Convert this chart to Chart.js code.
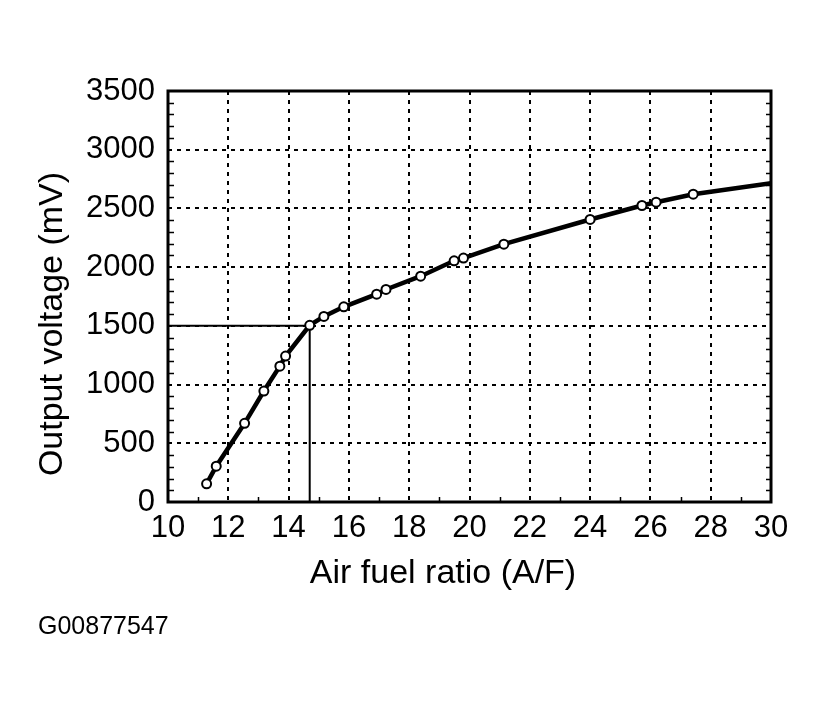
<!DOCTYPE html>
<html>
<head>
<meta charset="utf-8">
<script src="https://cdn.jsdelivr.net/npm/chart.js@4.4.1/dist/chart.umd.min.js"></script>
<style>
    html, body { margin: 0; padding: 0; background: #fff; }
    #wrap { width: 822px; height: 708px; position: relative; }
</style>
</head>
<body>
<div id="wrap"><canvas id="sensorChart" width="822" height="708"></canvas></div>
<script>
// Values
const afRatio = [11.28, 11.6, 12.54, 13.18, 13.71, 13.9, 14.7, 15.17, 15.83, 16.92, 17.23, 18.38, 19.49, 19.8, 21.14, 24.0, 25.72, 26.19, 27.42, 30];
const outputMv = [155, 305, 670, 945, 1157, 1243, 1505, 1580, 1662, 1770, 1810, 1923, 2054, 2077, 2196, 2406, 2525, 2553, 2621, 2715];
// stoichiometric guide: 14.7 A/F gives 1500 mV
const guideX = [10, 14.7, 14.7];
const guideY = [1500, 1500, 0];
const xTickValues = [10, 12, 14, 16, 18, 20, 22, 24, 26, 28, 30];
const yTickValues = [0, 500, 1000, 1500, 2000, 2500, 3000, 3500];
const xTitle = 'Air fuel ratio (A/F)';
const yTitle = 'Output voltage (mV)';
const figureCode = 'G00877547';

const FONT = "'Liberation Sans', Arial, Helvetica, sans-serif";

// frame, inner minor ticks and captions
const decorPlugin = {
    id: 'decor',
    afterDatasetsDraw(chart) {
        const { ctx, chartArea: a, scales } = chart;
        ctx.save();
        ctx.strokeStyle = '#000';
        ctx.lineWidth = 1.5;
        ctx.beginPath();
        for (let v = 100; v < 3500; v += 100) {
            if (v % 500 === 0) continue;
            const y = Math.round(scales.y.getPixelForValue(v)) + 0.5;
            ctx.moveTo(a.left, y); ctx.lineTo(a.left + 6, y);
            ctx.moveTo(a.right, y); ctx.lineTo(a.right - 5, y);
        }
        for (let v = 11; v < 30; v += 2) {
            const x = Math.round(scales.x.getPixelForValue(v)) + 0.5;
            ctx.moveTo(x, a.bottom); ctx.lineTo(x, a.bottom - 5);
        }
        ctx.stroke();

        ctx.lineWidth = 3;
        ctx.strokeRect(a.left, a.top, a.right - a.left, a.bottom - a.top);
        ctx.restore();
    },
    afterDraw(chart) {
        const { ctx } = chart;
        ctx.save();
        ctx.fillStyle = '#000';
        ctx.textBaseline = 'middle';

        ctx.font = `34px ${FONT}`;
        ctx.textAlign = 'center';
        ctx.fillText(xTitle, 443, 574);

        ctx.translate(53, 324);
        ctx.rotate(-Math.PI / 2);
        ctx.fillText(yTitle, 0, 0);
        ctx.setTransform(1, 0, 0, 1, 0, 0);

        ctx.font = `25px ${FONT}`;
        ctx.textAlign = 'left';
        ctx.fillText(figureCode, 38, 627);
        ctx.restore();
    }
};

const ctx = document.getElementById('sensorChart').getContext('2d');
const lastIdx = afRatio.length - 1;

new Chart(ctx, {
    type: 'scatter',
    data: {
        datasets: [
            {
                label: 'Output',
                data: afRatio.map((x, i) => ({ x, y: outputMv[i] })),
                showLine: true,
                borderColor: '#000',
                borderWidth: 4.5,
                tension: 0,
                pointRadius: c => (c.dataIndex === lastIdx ? 0 : 4.5),
                pointBorderWidth: 2,
                pointBackgroundColor: '#fff',
                pointBorderColor: '#000',
                order: 1
            },
            {
                label: 'Guide',
                data: guideX.map((x, i) => ({ x, y: guideY[i] })),
                showLine: true,
                borderColor: '#000',
                borderWidth: 2,
                pointRadius: 0,
                tension: 0,
                order: 2
            }
        ]
    },
    options: {
        responsive: false,
        animation: false,
        layout: { padding: { left: 0, right: 51, top: 91, bottom: 0 } },
        plugins: {
            legend: { display: false },
            tooltip: { enabled: false }
        },
        scales: {
            x: {
                type: 'linear',
                min: 10,
                max: 30,
                afterBuildTicks: s => { s.ticks = xTickValues.map(v => ({ value: v })); },
                afterFit: s => { s.height = 206; },
                grid: { color: '#000', lineWidth: 2, drawTicks: false },
                border: { display: false, dash: [4, 5] },
                ticks: { color: '#000', font: { family: FONT, size: 31 }, padding: 8, maxRotation: 0, callback: v => String(v) }
            },
            y: {
                type: 'linear',
                min: 0,
                max: 3500,
                afterBuildTicks: s => { s.ticks = yTickValues.map(v => ({ value: v })); },
                afterFit: s => { s.width = 168; },
                grid: { color: '#000', lineWidth: 2, drawTicks: false },
                border: { display: false, dash: [4, 5] },
                ticks: { color: '#000', font: { family: FONT, size: 31 }, padding: 13, callback: v => String(v) }
            }
        }
    },
    plugins: [decorPlugin]
});
</script>
</body>
</html>
